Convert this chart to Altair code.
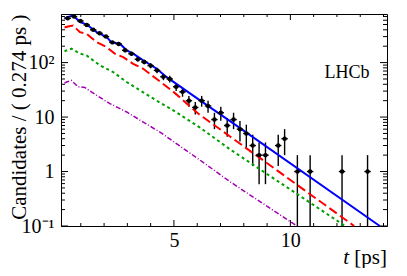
import altair as alt
import numpy as np
import pandas as pd

# ---------------- data ----------------
BIN_WIDTH = 0.274
FIRST_CENTER = 0.437
counts = [650, 700, 580, 490, 400, 345, 300, 235, 220, 168,
          145, 115, 103, 88, 72, 55, 50, 36, 29, 20,
          15, 20, 16, 9, 12, 7, 9, 6, 5, 3,
          2, 2, 0, 3, 4, 0, 1, 0, 1, 0,
          0, 0, 0, 1, 0, 0, 0, 1, 0, 0]

blue_t = [0.3, 0.45, 0.67, 0.96, 1.25, 1.68, 2.11, 2.32, 2.68, 2.97, 3.25, 3.68, 4.26, 4.69, 6.12, 7.41, 13.84]
blue_v = [640, 690, 730, 560, 500, 362, 293, 235, 222, 168, 146, 110, 77, 54, 20.2, 8.4, 0.1]

red_t = [0.3, 0.45, 0.67, 0.96, 1.25, 1.68, 2.11, 2.46, 2.82, 3.25, 3.68, 4.26, 4.98, 6.05, 7.41, 12.74]
red_v = [440, 460, 480, 362, 338, 237, 192, 146, 126, 95, 77, 50, 29, 11.5, 4.4, 0.1]

green_t = [0.3, 0.39, 0.60, 0.96, 1.25, 1.82, 2.39, 2.97, 3.54, 4.26, 4.97, 6.12, 7.41, 12.35]
green_v = [160, 167, 180, 146, 135, 89, 67, 44, 31, 20, 13.3, 6.4, 2.55, 0.1]

purple_t = [0.3, 0.39, 0.60, 0.88, 1.17, 1.68, 2.25, 2.97, 3.68, 4.40, 6.12, 7.41, 10.28]
purple_v = [42, 44, 47, 36, 35, 25, 17.7, 12.4, 8.1, 5.3, 1.62, 0.65, 0.1]

x_major = [5, 10]
x_minor = [1, 2, 3, 4, 6, 7, 8, 9, 11, 12, 13, 14]
y_major = [0.1, 1, 10, 100]
y_minor = [0.2, 0.3, 0.4, 0.5, 0.6, 0.7, 0.8, 0.9,
           2, 3, 4, 5, 6, 7, 8, 9,
           20, 30, 40, 50, 60, 70, 80, 90,
           200, 300, 400, 500, 600, 700]

# ---------------- tables ----------------
cnt = np.array(counts, dtype=float)
tc = FIRST_CENTER + BIN_WIDTH * np.arange(len(cnt))
err = np.sqrt(cnt)
pts = pd.DataFrame({
    "t": tc, "n": cnt,
    "lo": np.maximum(cnt - err, 0.1), "hi": cnt + err,
    "tl": tc - BIN_WIDTH / 2, "tr": tc + BIN_WIDTH / 2,
})
pts = pts[pts["n"] > 0]

W, H = 326, 212
FONT = "Liberation Serif"
xs = alt.Scale(domain=[0.15, 14.15], nice=False, zero=False)
ys = alt.Scale(type="log", domain=[0.1, 780], nice=False)

xaxis = alt.Axis(values=x_major, ticks=False, tickSize=0, grid=False, title=None,
                 labelFont=FONT, labelFontSize=20, labelPadding=4, labelColor="black",
                 labelFlush=False, labelOverlap=False, domainColor="black", domainWidth=1)
yaxis = alt.Axis(values=y_major, ticks=False, tickSize=0, grid=False,
                 labelExpr="datum.value < 0.5 ? '10⁻¹' : (datum.value > 50 ? '10²' : (datum.value > 5 ? '10' : '1'))",
                 labelFont=FONT, labelFontSize=20, labelPadding=7, labelColor="black",
                 labelFlush=False, labelOverlap=False, domainColor="black", domainWidth=1,
                 title="Candidates / ( 0.274 ps )", titleFont=FONT, titleFontSize=21,
                 titleFontWeight="normal", titleColor="black", titleAnchor="end",
                 titleX=-42, titleBaseline="middle")

X = lambda f: alt.X(f, scale=xs, axis=xaxis)
Y = lambda f: alt.Y(f, scale=ys, axis=yaxis)

def curve(ts, vs, color, width, dash=None):
    df = pd.DataFrame({"t": ts, "v": vs})
    kw = dict(color=color, strokeWidth=width)
    if dash is not None:
        kw["strokeDash"] = dash
    return alt.Chart(df).mark_line(**kw).encode(x=X("t:Q"), y=Y("v:Q"))

vbar = alt.Chart(pts).mark_rule(color="black", strokeWidth=1.4).encode(
    x=X("t:Q"), y=Y("lo:Q"), y2="hi:Q")
hbar = alt.Chart(pts).mark_rule(color="black", strokeWidth=1.4).encode(
    x=X("tl:Q"), x2="tr:Q", y=Y("n:Q"))
dots = alt.Chart(pts).mark_circle(color="black", size=20, opacity=1).encode(
    x=X("t:Q"), y=Y("n:Q"))

def xticks(vals, length):
    df = pd.DataFrame({"v": vals})
    b = alt.Chart(df).mark_rule(color="black", strokeWidth=1).encode(
        x=X("v:Q"), y=alt.value(H), y2=alt.value(H - length))
    t = alt.Chart(df).mark_rule(color="black", strokeWidth=1).encode(
        x=X("v:Q"), y=alt.value(0), y2=alt.value(length))
    return [b, t]

def yticks(vals, length):
    df = pd.DataFrame({"v": vals})
    l = alt.Chart(df).mark_rule(color="black", strokeWidth=1).encode(
        y=Y("v:Q"), x=alt.value(0), x2=alt.value(length))
    r = alt.Chart(df).mark_rule(color="black", strokeWidth=1).encode(
        y=Y("v:Q"), x=alt.value(W), x2=alt.value(W - length))
    return [l, r]

one = pd.DataFrame({"a": [0]})
lhcb = alt.Chart(one).mark_text(text="LHCb", font=FONT, fontSize=18, align="center",
                                baseline="alphabetic", color="black").encode(
    x=alt.value(286), y=alt.value(64))
tlab = alt.Chart(one).mark_text(text="t", font=FONT, fontSize=21, fontStyle="italic",
                                align="right", baseline="alphabetic", color="black").encode(
    x=alt.value(288), y=alt.value(250))
pslab = alt.Chart(one).mark_text(text="[ps]", font=FONT, fontSize=21, align="right",
                                 baseline="alphabetic", color="black").encode(
    x=alt.value(326), y=alt.value(250))

layers = [vbar,
          curve(purple_t, purple_v, "#a000b0", 1.5, [5, 2, 1, 2]),
          curve(green_t, green_v, "#00a000", 2, [3, 3]),
          curve(red_t, red_v, "#ff0000", 2, [9, 4]),
          curve(blue_t, blue_v, "#0000ff", 2),
          hbar, dots]
layers += xticks(x_major, 6) + xticks(x_minor, 3) + yticks(y_major, 7) + yticks(y_minor, 4)
layers += [lhcb, tlab, pslab]

chart = alt.layer(*layers).properties(
    width=W, height=H,
    autosize=alt.AutoSizeParams(type="none"),
    padding={"left": 53, "top": 6, "right": 12, "bottom": 42},
    background="white",
).configure_view(stroke="black", strokeWidth=1)

chart.save("out.html", embed_options={"renderer": "svg", "actions": False})
